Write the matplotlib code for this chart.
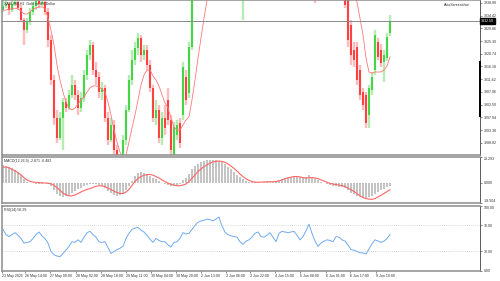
import numpy as np
import matplotlib
matplotlib.use("Agg")
import matplotlib.pyplot as plt
import matplotlib.transforms as mtransforms
from matplotlib.lines import Line2D

plt.rcParams['font.family'] = ['Liberation Sans', 'DejaVu Sans']

# ---- candles, one per bar (price) ----
opens = ([3336.4, 3337.8, 3338.6, 3336.4, 3338.6, 3339.3, 3337.1, 3332.8, 3329.2, 3332.1,
          3335.7, 3337.8, 3339.6, 3338.6, 3339.3, 3335.7, 3325.7, 3311.3, 3297.7, 3290.5,
          3297.7, 3303.4, 3301.3, 3306.0, 3309.5, 3306.0, 3301.3, 3304.9, 3313.1, 3320.3,
          3323.9, 3314.9, 3312.4, 3307.0, 3308.5, 3297.7, 3289.8, 3295.2, 3286.2, 3282.7,
          3280.9, 3289.8, 3300.6, 3311.3, 3318.5, 3322.8, 3326.4, 3320.3, 3322.1, 3316.7,
          3308.5, 3297.7, 3300.6, 3290.5, 3297.7, 3304.2, 3297.0, 3284.4, 3291.6, 3295.9,
          3298.8, 3312.4, 3306.7, 3323.2]
         + [3343.6, 3348, 3352, 3356, 3359, 3362, 3364, 3363, 3366, 3368,
            3365, 3361, 3358, 3355, 3352, 3349, 3344, 3347, 3349, 3350,
            3352, 3351, 3354, 3356, 3353, 3355, 3357, 3355, 3352, 3354,
            3357, 3359, 3358, 3360, 3359, 3361, 3358, 3360, 3363, 3365,
            3358, 3350, 3352, 3354, 3352, 3355, 3353, 3351, 3349, 3347]
         + [3345.0, 3340.0, 3331.0, 3322.1, 3323.2, 3314.9, 3307.0, 3306.0, 3298.8, 3307.7,
            3314.9, 3324.9, 3322.1, 3317.8, 3319.2, 3328.2])
closes = ([3337.8, 3338.6, 3336.4, 3338.6, 3339.3, 3337.1, 3332.8, 3329.2, 3332.1, 3335.7,
           3337.8, 3339.6, 3338.6, 3339.3, 3335.7, 3325.7, 3311.3, 3297.7, 3290.5, 3297.7,
           3303.4, 3301.3, 3306.0, 3309.5, 3306.0, 3301.3, 3304.9, 3313.1, 3320.3, 3323.9,
           3314.9, 3312.4, 3307.0, 3308.5, 3297.7, 3289.8, 3295.2, 3286.2, 3282.7, 3280.9,
           3289.8, 3300.6, 3311.3, 3318.5, 3322.8, 3326.4, 3320.3, 3322.1, 3316.7, 3308.5,
           3297.7, 3300.6, 3290.5, 3297.7, 3294.1, 3297.0, 3286.2, 3294.5, 3295.2, 3288.7,
           3316.0, 3304.2, 3323.2, 3343.6]
          + [3348, 3352, 3356, 3359, 3362, 3364, 3363, 3366, 3368, 3365,
             3361, 3358, 3355, 3352, 3349, 3344, 3347, 3349, 3350, 3352,
             3351, 3354, 3356, 3353, 3355, 3357, 3355, 3352, 3354, 3357,
             3359, 3358, 3360, 3359, 3361, 3358, 3360, 3363, 3365, 3358,
             3350, 3352, 3354, 3352, 3355, 3353, 3351, 3349, 3347, 3345]
          + [3338.2, 3325.7, 3320.3, 3318.5, 3311.3, 3306.0, 3302.4, 3295.9, 3308.5, 3312.4,
             3327.5, 3319.6, 3317.4, 3320.3, 3326.7, 3332.5])
highs = ([3340.7, 3340.7, 3339.3, 3340.7, 3341.1, 3340.0, 3338.2, 3333.5, 3333.5, 3337.1,
          3339.3, 3341.1, 3341.1, 3341.1, 3340.7, 3337.1, 3327.5, 3313.1, 3300.6, 3299.9,
          3304.9, 3304.9, 3307.7, 3313.1, 3311.3, 3307.7, 3307.0, 3314.9, 3322.1, 3325.7,
          3324.9, 3317.8, 3314.2, 3310.6, 3309.5, 3299.9, 3297.7, 3297.0, 3288.0, 3284.4,
          3291.6, 3302.4, 3313.1, 3322.1, 3324.9, 3328.2, 3327.5, 3323.9, 3323.9, 3318.5,
          3309.5, 3304.2, 3302.4, 3299.9, 3302.4, 3308.5, 3298.8, 3296.3, 3297.0, 3297.7,
          3317.8, 3314.9, 3324.9, 3345.4]
         + [3350, 3354, 3358, 3361, 3364, 3366, 3366, 3368, 3370, 3370,
            3367, 3363, 3360, 3357, 3354, 3351, 3349, 3351, 3352, 3354,
            3354, 3356, 3358, 3358, 3357, 3359, 3359, 3357, 3356, 3359,
            3361, 3361, 3362, 3362, 3363, 3363, 3362, 3365, 3367, 3367,
            3360, 3354, 3356, 3356, 3357, 3357, 3355, 3353, 3351, 3349]
         + [3347.0, 3341.0, 3332.8, 3324.9, 3324.9, 3316.7, 3308.5, 3307.0, 3309.5, 3314.2,
            3329.2, 3326.4, 3324.2, 3322.1, 3328.2, 3334.6])
lows = ([3335.7, 3337.1, 3334.6, 3335.7, 3337.8, 3336.4, 3332.1, 3323.9, 3328.2, 3331.0,
         3334.6, 3336.4, 3337.1, 3337.8, 3334.6, 3323.2, 3309.5, 3295.2, 3288.7, 3289.8,
         3286.2, 3299.9, 3300.6, 3304.9, 3304.2, 3298.8, 3299.9, 3303.4, 3311.3, 3318.5,
         3313.1, 3309.5, 3304.9, 3304.2, 3296.3, 3288.0, 3289.1, 3284.4, 3279.1, 3279.1,
         3279.1, 3288.0, 3299.9, 3309.5, 3316.7, 3320.3, 3317.8, 3318.5, 3314.9, 3307.0,
         3296.3, 3295.2, 3288.7, 3288.0, 3291.6, 3295.2, 3282.7, 3280.9, 3289.8, 3287.0,
         3297.0, 3302.4, 3304.9, 3322.1]
        + [3341.6, 3346, 3350, 3354, 3357, 3360, 3361, 3361, 3364, 3363,
           3359, 3356, 3353, 3350, 3347, 3342, 3333.0, 3345, 3347, 3348,
           3349, 3349, 3352, 3351, 3351, 3353, 3353, 3350, 3350, 3352,
           3355, 3356, 3356, 3357, 3357, 3356, 3356, 3358, 3361, 3356,
           3339.0, 3348, 3350, 3350, 3350, 3351, 3349, 3347, 3345, 3343]
        + [3337.1, 3323.2, 3316.7, 3316.0, 3309.5, 3304.2, 3300.6, 3294.1, 3294.1, 3306.0,
           3313.1, 3318.5, 3316.0, 3310.6, 3318.1, 3327.1])

# moving average drawn on the price chart
ma = ([3336.4, 3336.4, 3336.8, 3336.8, 3337.1, 3336.8, 3336.1, 3335.0, 3335.0, 3335.7,
       3336.8, 3337.1, 3337.5, 3337.5, 3337.1]
      + [3333.5, 3329.2, 3323.9, 3316.7, 3311.3, 3307.0, 3303.4, 3301.3, 3300.6, 3301.3,
         3302.7, 3304.2, 3305.2, 3307.0, 3308.5, 3309.2, 3309.2, 3308.8, 3308.1, 3307.0,
         3303.4, 3298.8, 3293.4, 3289.1, 3285.5, 3283.4, 3284.4, 3289.1, 3294.1, 3298.8,
         3304.2, 3309.5, 3313.1, 3314.9, 3314.9, 3312.8, 3311.3, 3309.2, 3306.0, 3303.1,
         3301.3, 3297.7, 3294.5, 3293.4, 3293.4, 3295.2, 3297.0, 3298.1, 3304.2, 3311.3,
         3319.2, 3326.4, 3333.5, 3340.0]
      + [3345, 3349, 3352, 3355, 3358, 3360, 3361, 3361, 3360, 3358,
         3356, 3354, 3352, 3351, 3351, 3352, 3353, 3353, 3354, 3355,
         3355, 3355, 3354, 3354, 3355, 3356, 3357, 3358, 3358, 3359,
         3359, 3360, 3360, 3361, 3361, 3360, 3358, 3356, 3355, 3354,
         3353, 3353, 3352, 3351, 3350, 3349, 3347, 3345, 3342]
      + [3339.3, 3333.5, 3327.5, 3319.2, 3314.2, 3313.8, 3314.2, 3314.2, 3314.2, 3314.9,
         3316.3, 3319.6])

macd_main = [15.8, 15.5, 14.5, 13, 11.5, 9.5, 7, 3, 1, 0,
             -0.5, -0.8, -1, -0.8, -0.5, -1, -3.5, -7, -10, -12,
             -13, -12.5, -11.5, -9.5, -7.5, -6, -4.5, -3, -1.8, -1,
             -1, -1.5, -2, -3, -5, -7.5, -9, -11, -12, -11.5,
             -10, -7, -3.5, 1.5, 6, 8.5, 9.5, 9, 7.5, 6,
             4.5, 3, 1.5, 0, -1, -2, -3, -3, -2.5, -1,
             2, 4.5, 8, 12, 15, 17, 18.5, 19.5, 20.3, 20.6,
             20.8, 20.6, 20, 18.5, 16.7, 14.5, 12, 9.5, 7, 4.7,
             3, 1.8, 1, 0.5, 0.2, 0, 0, 0.3, 0.5, 0.8,
             1, 1.5, 2.5, 3.5, 4.5, 5, 5.3, 5.5, 5.2, 4.8,
             4.5, 5.5, 6.5, 5.5, 3.5, 2, 0.5, -0.5, -1.5, -2.5,
             -3, -3.3, -3.6, -4, -5, -7, -9, -10.5, -12.5, -13.5,
             -14, -14.2, -13.5, -12, -10.5, -8.5, -7, -5.5, -4, -2.871]
macd_signal = [14, 14.2, 13.5, 12.2, 10.8, 9, 7, 4.5, 2.5, 1.2,
               0.5, 0.2, 0, -0.2, -0.3, -0.5, -1, -2.5, -4.5, -7,
               -9.5, -11, -12, -12, -11.2, -10, -8.5, -7.2, -6.2, -5.4,
               -4.3, -3.3, -2.8, -3, -3.7, -5, -6.3, -7.8, -9, -9.8,
               -10, -8.5, -6.2, -2.5, 1, 3.8, 5.5, 6.7, 7.3, 7.4,
               6.8, 5.5, 4.2, 2.5, 1, -0.5, -1.6, -2.3, -2.8, -2.8,
               -2.2, -1.2, 1, 4, 7, 10, 12.5, 14.5, 16.2, 17.7,
               18.8, 19.4, 19.6, 19.2, 18.5, 17, 15, 13, 10.5, 7.8,
               5.5, 3.5, 2, 1, 0.5, 0.3, 0.5, 0.8, 0.8, 0.8,
               0.8, 1, 1.5, 2.5, 3.5, 4.3, 5, 5.5, 5.5, 5.2,
               4.5, 4.2, 4.5, 4.6, 4.2, 3.6, 2.5, 1.3, 0.2, -0.7,
               -1.3, -1.8, -2.3, -2.8, -3.5, -5, -6.5, -8, -10, -12,
               -13.5, -14.5, -15, -15.2, -14.5, -13, -11.5, -9.8, -8, -6.482]
rsi = [64, 56, 53, 56, 59, 55, 50, 43, 44, 45,
       50, 56, 60, 54, 50, 43, 30, 25, 23, 22,
       27, 32, 38, 45, 44, 48, 44, 52, 59, 61,
       56, 52, 45, 44, 45, 36, 27, 30, 33, 35,
       38, 50, 58, 64, 66, 67, 63, 60, 55, 49,
       44, 50, 47, 45, 45, 40, 37, 44, 45, 50,
       59, 57, 58, 64, 70, 75, 77, 78, 80, 79,
       77, 80, 83, 69, 60, 56, 54, 53, 52, 45,
       41, 46, 48, 52, 58, 60, 53, 52, 55, 59,
       52, 45, 58, 61, 60, 59, 60, 61, 55, 48,
       53, 62, 72, 58, 46, 38, 43, 46, 48, 47,
       45, 53, 52, 48, 46, 40, 33, 32, 30, 28,
       28, 26, 34, 42, 48, 46, 44, 46, 50, 56.29]

time_labels = ["23 May 2025", "26 May 14:00", "27 May 09:00", "28 May 02:00",
               "28 May 18:00", "29 May 11:00", "30 May 04:00", "30 May 20:00",
               "2 Jun 13:00", "3 Jun 06:00", "3 Jun 22:00", "4 Jun 15:00",
               "5 Jun 08:00", "6 Jun 01:00", "6 Jun 17:00", "9 Jun 10:00"]
time_ticks = [-0.3, 7.3, 15.7, 24.3, 32.7, 41, 49.3, 57.7, 66, 74.3,
              82.3, 90.7, 99, 107.7, 115.7, 124.3]
price_ticks = [3338.98, 3334.42, 3329.86, 3325.30, 3320.74, 3316.18,
               3311.62, 3307.06, 3302.50, 3297.94, 3293.38, 3288.82]

n = len(closes)
for arr in (opens, highs, lows, ma, macd_main, macd_signal, rsi):
    assert len(arr) == n, len(arr)

x = np.arange(n)
o, h, l, c = map(np.array, (opens, highs, lows, closes))
up = c >= o

FS = 2.6
TXT = '#303030'
SEP = '#8c8c8c'
XL = (-0.33, 159)

fig = plt.figure(figsize=(5, 2.81), dpi=100)
ax = fig.add_axes([0.004, 0.4484, 0.956, 0.5516])
ax2 = fig.add_axes([0.004, 0.2776, 0.956, 0.1637])
ax3 = fig.add_axes([0.004, 0.0356, 0.956, 0.2313])

for a in (ax, ax2, ax3):
    a.set_xlim(*XL)
    for s in ('left', 'top', 'bottom'):
        a.spines[s].set_color(SEP)
        a.spines[s].set_linewidth(1.1)
    a.spines['right'].set_color('#404040')
    a.spines['right'].set_linewidth(0.6)
    a.yaxis.tick_right()
    a.tick_params(axis='y', labelsize=FS, length=1.5, width=0.4, pad=1,
                  colors=TXT)
    a.tick_params(axis='x', bottom=False, labelbottom=False)

# price panel
ax.vlines(x[up], l[up], h[up], color='#b4ecb4', lw=1.7)
ax.vlines(x[~up], l[~up], h[~up], color='#ffbcbc', lw=1.7)
ax.vlines(x[up], o[up], c[up], color='#22d022', lw=1.1)
ax.vlines(x[~up], c[~up], o[~up], color='#ff1c1c', lw=1.1)
ax.plot(x, ma, color='#ff7878', lw=0.6)
ax.axhline(closes[-1], color='#8a8a8a', lw=0.7)
ax.set_ylim(3284.45, 3340.0)
ax.set_yticks(price_ticks)
ax.set_yticklabels([f"{p:.2f}" for p in price_ticks])
ax.text(0.004, 0.99, "XAUUSD,H1  Gold vs US Dollar", transform=ax.transAxes,
        fontsize=FS, color=TXT, va='top', ha='left')
ax.text(0.978, 0.965, "AutoScreenshot", transform=ax.transAxes,
        fontsize=FS, color=TXT, va='center', ha='right')
tr = mtransforms.blended_transform_factory(ax.transAxes, ax.transData)
ax.text(1.002, closes[-1], f"{closes[-1]:.2f}", transform=tr, fontsize=FS,
        color='white', va='center', ha='left', clip_on=False,
        bbox=dict(boxstyle='square,pad=0.2', fc='black', ec='black'))
fig.add_artist(Line2D([0.9605, 0.9605], [1 - 62 / 281, 1 - 116 / 281],
                      color='black', lw=1.4))

# MACD panel
ax2.bar(x, macd_main, width=0.55, color='#c4c4c4')
ax2.plot(x, macd_signal, color='#ff6464', lw=0.8)
ax2.set_ylim(-18.504, 23.293)
ax2.set_yticks([-18.504, 0, 23.293])
ax2.set_yticklabels(["-18.504", "0.000", "23.293"])
labs = ax2.get_yticklabels()
labs[0].set_va('bottom')
labs[2].set_va('top')
ax2.text(0.004, 0.95, "MACD(12,26,9) -2.871 -6.482", transform=ax2.transAxes,
         fontsize=FS, color=TXT, va='top', ha='left')

# RSI panel
ax3.plot(x, rsi, color='#6eaaf0', lw=0.7)
for lv in (70, 30):
    ax3.axhline(lv, color='#b8b8b8', lw=0.5, ls=(0, (1, 2)))
ax3.set_ylim(0, 100)
ax3.set_yticks([0, 30, 70, 100])
ax3.set_yticklabels(["0.00", "30.00", "70.00", "100.00"])
labs = ax3.get_yticklabels()
labs[3].set_va('top')
ax3.text(0.004, 0.97, "RSI(14) 56.29", transform=ax3.transAxes,
         fontsize=FS, color=TXT, va='top', ha='left')
ax3.tick_params(axis='x', bottom=True, labelbottom=True, labelsize=FS,
                length=1.5, width=0.4, pad=1, colors=TXT)
ax3.set_xticks(time_ticks)
ax3.set_xticklabels(time_labels, ha='left')

fig.savefig("out.png", dpi=100)
